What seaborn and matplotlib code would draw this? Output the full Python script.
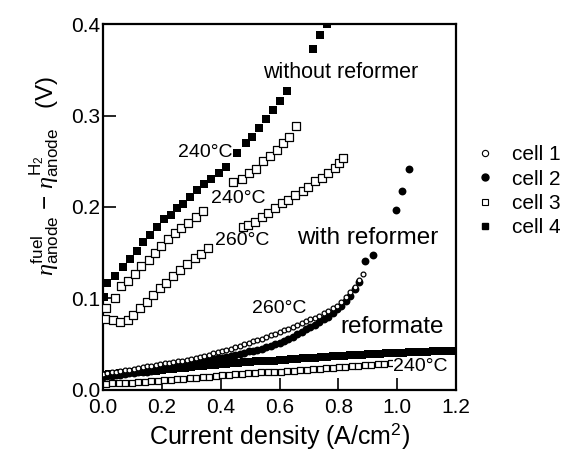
import numpy as np
import matplotlib
matplotlib.use('Agg')
import matplotlib.pyplot as plt
import seaborn as sns
from matplotlib.lines import Line2D

# ── data ──────────────────────────────────────────────────────────────────────
# cell 4, without reformer, 240 C (filled squares)
x_c4_h2 = [0.005, 0.015, 0.041, 0.069, 0.092, 0.115, 0.137, 0.160, 0.185, 0.207,
           0.230, 0.253, 0.273, 0.296, 0.320, 0.344, 0.369, 0.394, 0.417, 0.456,
           0.485, 0.508, 0.531, 0.554, 0.577, 0.602, 0.624, 0.715, 0.738, 0.760]
y_c4_h2 = [0.102, 0.117, 0.125, 0.134, 0.143, 0.152, 0.162, 0.169, 0.178, 0.187,
           0.191, 0.199, 0.203, 0.211, 0.219, 0.225, 0.231, 0.237, 0.244, 0.259,
           0.270, 0.277, 0.286, 0.296, 0.306, 0.316, 0.327, 0.373, 0.388, 0.400]

# cell 3, without reformer, 240 C (open squares)
x_c3_240 = [0.012, 0.040, 0.063, 0.086, 0.109, 0.131, 0.156, 0.177, 0.199, 0.222,
            0.245, 0.267, 0.290, 0.315, 0.339, 0.443, 0.471, 0.497, 0.520, 0.545,
            0.568, 0.590, 0.613, 0.633, 0.656]
y_c3_240 = [0.089, 0.100, 0.114, 0.119, 0.127, 0.135, 0.142, 0.150, 0.157, 0.165,
            0.171, 0.177, 0.183, 0.189, 0.196, 0.227, 0.231, 0.237, 0.242, 0.250,
            0.256, 0.262, 0.270, 0.276, 0.288]

# cell 3, without reformer, 260 C (open squares)
x_c3_260 = [0.007, 0.035, 0.060, 0.086, 0.103, 0.126, 0.149, 0.171, 0.194, 0.216,
            0.239, 0.262, 0.287, 0.313, 0.335, 0.358, 0.475, 0.494, 0.517, 0.539,
            0.562, 0.585, 0.607, 0.630, 0.653, 0.679, 0.698, 0.721, 0.743, 0.766,
            0.789, 0.803, 0.817]
y_c3_260 = [0.077, 0.076, 0.074, 0.076, 0.082, 0.089, 0.096, 0.104, 0.111, 0.117,
            0.124, 0.131, 0.138, 0.144, 0.149, 0.155, 0.178, 0.180, 0.184, 0.189,
            0.193, 0.199, 0.204, 0.208, 0.213, 0.218, 0.222, 0.228, 0.232, 0.237,
            0.243, 0.248, 0.253]

# cell 1, with reformer, 260 C (open circles)
x_c1 = [0.000, 0.015, 0.030, 0.045, 0.060, 0.075, 0.090, 0.105, 0.120, 0.135,
        0.150, 0.165, 0.180, 0.195, 0.210, 0.225, 0.240, 0.255, 0.270, 0.285,
        0.300, 0.315, 0.330, 0.345, 0.360, 0.375, 0.390, 0.405, 0.420, 0.435,
        0.450, 0.465, 0.480, 0.495, 0.510, 0.525, 0.540, 0.555, 0.570, 0.585,
        0.600, 0.615, 0.630, 0.645, 0.660, 0.675, 0.690, 0.705, 0.720, 0.735,
        0.750, 0.765, 0.780, 0.795, 0.810, 0.825, 0.840, 0.855, 0.870, 0.885]
y_c1 = [0.017, 0.018, 0.019, 0.020, 0.021, 0.022, 0.022, 0.023, 0.024, 0.025,
        0.026, 0.026, 0.027, 0.028, 0.029, 0.029, 0.030, 0.031, 0.032, 0.033,
        0.034, 0.035, 0.036, 0.037, 0.038, 0.040, 0.041, 0.042, 0.044, 0.045,
        0.047, 0.048, 0.050, 0.051, 0.053, 0.055, 0.056, 0.058, 0.060, 0.061,
        0.063, 0.065, 0.067, 0.069, 0.071, 0.073, 0.075, 0.077, 0.079, 0.081,
        0.084, 0.086, 0.089, 0.092, 0.096, 0.101, 0.107, 0.113, 0.120, 0.127]

# cell 2, with reformer (filled circles)
x_c2 = [0.000, 0.015, 0.030, 0.045, 0.060, 0.075, 0.090, 0.105, 0.120, 0.135,
        0.150, 0.165, 0.180, 0.195, 0.210, 0.225, 0.240, 0.255, 0.270, 0.285,
        0.300, 0.315, 0.330, 0.345, 0.360, 0.375, 0.390, 0.405, 0.420, 0.435,
        0.450, 0.465, 0.480, 0.495, 0.510, 0.525, 0.540, 0.555, 0.570, 0.585,
        0.600, 0.615, 0.630, 0.645, 0.660, 0.675, 0.690, 0.705, 0.720, 0.735,
        0.750, 0.765, 0.780, 0.795, 0.810, 0.825, 0.840, 0.855, 0.870,
        0.891, 0.917, 0.995, 1.015, 1.038]
y_c2 = [0.014, 0.015, 0.015, 0.016, 0.016, 0.017, 0.018, 0.018, 0.019, 0.020,
        0.020, 0.021, 0.022, 0.023, 0.024, 0.024, 0.025, 0.026, 0.027, 0.028,
        0.029, 0.030, 0.031, 0.032, 0.033, 0.034, 0.035, 0.035, 0.036, 0.037,
        0.038, 0.039, 0.040, 0.042, 0.043, 0.044, 0.045, 0.047, 0.048, 0.050,
        0.051, 0.053, 0.056, 0.058, 0.061, 0.063, 0.066, 0.069, 0.071, 0.074,
        0.077, 0.080, 0.084, 0.088, 0.092, 0.097, 0.103, 0.110, 0.118,
        0.141, 0.148, 0.197, 0.218, 0.241]

# cell 4, reformate (filled squares)
x_c4_ref = [0.00, 0.02, 0.04, 0.06, 0.08, 0.10, 0.12, 0.14, 0.16, 0.18,
            0.20, 0.22, 0.24, 0.26, 0.28, 0.30, 0.32, 0.34, 0.36, 0.38,
            0.40, 0.42, 0.44, 0.46, 0.48, 0.50, 0.52, 0.54, 0.56, 0.58,
            0.60, 0.62, 0.64, 0.66, 0.68, 0.70, 0.72, 0.74, 0.76, 0.78,
            0.80, 0.82, 0.84, 0.86, 0.88, 0.90, 0.92, 0.94, 0.96, 0.98,
            1.00, 1.02, 1.04, 1.06, 1.08, 1.10, 1.12, 1.14, 1.16, 1.18, 1.20]
y_c4_ref = [0.016, 0.017, 0.017, 0.018, 0.018, 0.019, 0.019, 0.020, 0.021, 0.021,
            0.022, 0.023, 0.023, 0.024, 0.024, 0.025, 0.026, 0.026, 0.027, 0.027,
            0.028, 0.028, 0.029, 0.029, 0.030, 0.030, 0.031, 0.031, 0.032, 0.032,
            0.033, 0.033, 0.034, 0.034, 0.035, 0.035, 0.035, 0.036, 0.036, 0.037,
            0.037, 0.037, 0.038, 0.038, 0.038, 0.039, 0.039, 0.039, 0.040, 0.040,
            0.040, 0.040, 0.041, 0.041, 0.041, 0.041, 0.042, 0.042, 0.042, 0.042, 0.042]

# cell 3, reformate, 240 C (open squares)
x_c3_ref = [0.010, 0.032, 0.054, 0.076, 0.098, 0.120, 0.142, 0.164, 0.186, 0.208,
            0.230, 0.252, 0.274, 0.296, 0.318, 0.340, 0.362, 0.384, 0.406, 0.428,
            0.450, 0.472, 0.494, 0.516, 0.538, 0.560, 0.582, 0.604, 0.626, 0.648,
            0.670, 0.692, 0.714, 0.736, 0.758, 0.780, 0.802, 0.824, 0.846, 0.868,
            0.890, 0.912, 0.934, 0.956, 0.978]
y_c3_ref = [0.006, 0.007, 0.007, 0.008, 0.008, 0.009, 0.009, 0.010, 0.010, 0.011,
            0.011, 0.012, 0.012, 0.013, 0.013, 0.014, 0.014, 0.015, 0.016, 0.016,
            0.017, 0.017, 0.018, 0.018, 0.019, 0.019, 0.020, 0.020, 0.021, 0.021,
            0.022, 0.022, 0.023, 0.023, 0.024, 0.024, 0.025, 0.025, 0.026, 0.026,
            0.027, 0.027, 0.028, 0.028, 0.029]

cell_labels = ['cell 1', 'cell 2', 'cell 3', 'cell 4']

# ── style ─────────────────────────────────────────────────────────────────────
sns.set_style('ticks')
plt.rcParams['font.family'] = ['Liberation Sans', 'DejaVu Sans']
plt.rcParams['mathtext.fontset'] = 'custom'
plt.rcParams['mathtext.rm'] = 'Liberation Sans'
plt.rcParams['mathtext.it'] = 'Liberation Serif:italic'
for key in ['text.color', 'axes.labelcolor', 'xtick.color', 'ytick.color', 'axes.edgecolor']:
    plt.rcParams[key] = 'black'

fig = plt.figure(figsize=(5.71, 4.63), dpi=100)
ax = fig.add_axes([0.180, 0.158, 0.619, 0.790])

open_kw = dict(color='white', edgecolor='black', linewidth=0.9)
fill_kw = dict(color='black', edgecolor='black', linewidth=0)

sns.scatterplot(x=x_c4_ref, y=y_c4_ref, marker='s', s=34, ax=ax, zorder=3, **fill_kw)
sns.scatterplot(x=x_c3_ref, y=y_c3_ref, marker='s', s=20, ax=ax, zorder=3, **open_kw)
sns.scatterplot(x=x_c2, y=y_c2, marker='o', s=32, ax=ax, zorder=3, **fill_kw)
sns.scatterplot(x=x_c1, y=y_c1, marker='o', s=12, ax=ax, zorder=4, **open_kw)
sns.scatterplot(x=x_c3_260, y=y_c3_260, marker='s', s=28, ax=ax, zorder=3, **open_kw)
sns.scatterplot(x=x_c3_240, y=y_c3_240, marker='s', s=28, ax=ax, zorder=3, **open_kw)
sns.scatterplot(x=x_c4_h2, y=y_c4_h2, marker='s', s=30, ax=ax, zorder=3, **fill_kw)

ax.set_xlim(0, 1.2)
ax.set_ylim(0, 0.4)
ax.set_xticks([0.0, 0.2, 0.4, 0.6, 0.8, 1.0, 1.2])
ax.set_yticks([0.0, 0.1, 0.2, 0.3, 0.4])
ax.xaxis.set_major_formatter(matplotlib.ticker.FormatStrFormatter('%.1f'))
ax.yaxis.set_major_formatter(matplotlib.ticker.FormatStrFormatter('%.1f'))
ax.tick_params(direction='in', length=9, width=1.2, labelsize=15, colors='black')
ax.tick_params(axis='x', pad=6)
ax.tick_params(axis='y', pad=2)
for sp in ax.spines.values():
    sp.set_linewidth(1.6)
    sp.set_color('black')

ax.set_xlabel('Current density (A/cm$^2$)', fontsize=18, labelpad=3)
fig.text(0.078, 0.62,
         r'$\eta^{\mathrm{fuel}}_{\mathrm{anode}}$ $-$ $\eta^{\mathrm{H_2}}_{\mathrm{anode}}$   (V)',
         rotation=90, fontsize=17.5, ha='center', va='center')

# annotations
ax.text(0.544, 0.347, 'without reformer', fontsize=15.5, va='center', ha='left')
ax.text(0.255, 0.260, '240°C', fontsize=14, va='center', ha='left')
ax.text(0.369, 0.209, '240°C', fontsize=14, va='center', ha='left')
ax.text(0.381, 0.163, '260°C', fontsize=14, va='center', ha='left')
ax.text(0.658, 0.166, 'with reformer', fontsize=17.5, va='center', ha='left')
ax.text(0.505, 0.0885, '260°C', fontsize=14, va='center', ha='left')
ax.text(0.806, 0.069, 'reformate', fontsize=17.5, va='center', ha='left')
ax.text(0.987, 0.026, '240°C', fontsize=14, va='center', ha='left', zorder=5,
        bbox=dict(facecolor='white', edgecolor='none', pad=0.5))

# legend outside on the right
handles = [
    Line2D([], [], linestyle='none', marker='o', markersize=4.5,
           markerfacecolor='white', markeredgecolor='black', markeredgewidth=0.8),
    Line2D([], [], linestyle='none', marker='o', markersize=5,
           markerfacecolor='black', markeredgecolor='black'),
    Line2D([], [], linestyle='none', marker='s', markersize=4.5,
           markerfacecolor='white', markeredgecolor='black', markeredgewidth=0.8),
    Line2D([], [], linestyle='none', marker='s', markersize=4.5,
           markerfacecolor='black', markeredgecolor='black'),
]
fig.legend(handles, cell_labels, loc='center left', bbox_to_anchor=(0.806, 0.587),
           frameon=False, fontsize=15, handlelength=1.0, handletextpad=0.8,
           labelspacing=0.25, borderpad=0.2)

fig.savefig('out.png', dpi=100)
